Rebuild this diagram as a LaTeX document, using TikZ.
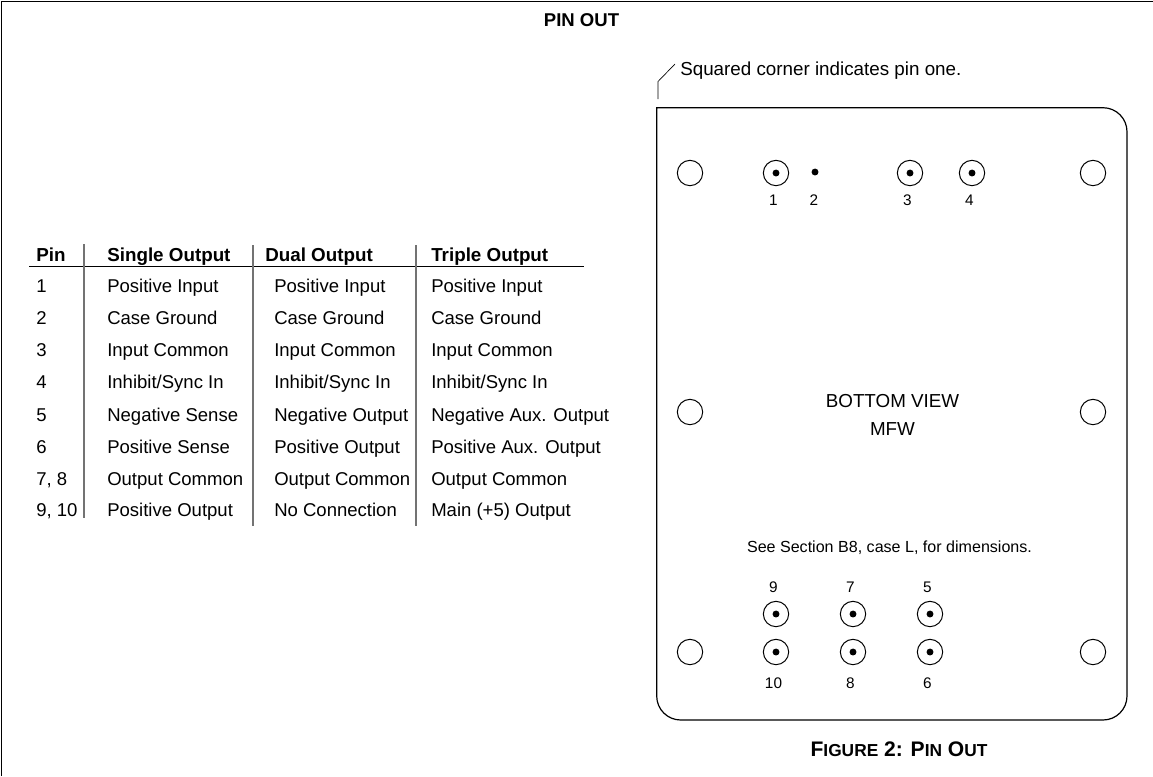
\documentclass[tikz,border=0pt]{standalone}
\usepackage{fontspec}
\setmainfont{Liberation Sans}
\tikzset{
  mounthole/.style={circle,draw,minimum size=19pt,inner sep=0pt,line width=0.75pt},
  pindot/.style={circle,fill,minimum size=5.2pt,inner sep=0pt},
  pinlabel/.style={font=\fontsize{11.5pt}{13pt}\selectfont,inner sep=0pt},
  celltext/.style={font=\fontsize{13.9pt}{16pt}\selectfont,anchor=base west,inner sep=0pt},
  headtext/.style={celltext,font=\fontsize{14.1pt}{16pt}\selectfont\bfseries},
}
\begin{document}
\begin{tikzpicture}[x=0.75pt,y=-0.75pt]
\useasboundingbox (0,0) rectangle (1153,776);
\coordinate (frameA) at (1,776);
\coordinate (frameB) at (1,1);
\coordinate (frameC) at (1153,1);
\draw[line width=0.75pt] (frameA) -- (frameB) -- (frameC);
\node[font=\fontsize{13.9pt}{15pt}\selectfont\bfseries,inner sep=0pt] (title) at (581.5,20) {PIN OUT};
% table
\coordinate (ruleL) at (29,266);
\coordinate (ruleR) at (584,266);
\draw[line width=0.6pt] (ruleL) -- (ruleR);
\foreach \name/\x/\ya/\yb in {sepA/84/244/518,sepB/253/245/526,sepC/416/245/526}{
  \coordinate (\name top) at (\x,\ya);
  \coordinate (\name bot) at (\x,\yb);
  \draw[black!55,line width=0.9pt] (\name top) -- (\name bot);
}
\node[headtext] (headPin) at (36,261) {Pin};
\node[headtext] (headSingle) at (107,261) {Single Output};
\node[headtext] (headDual) at (265,261) {Dual Output};
\node[headtext] (headTriple) at (431,261) {Triple Output};
\foreach \i/\y/\p/\s/\d/\t in {
  1/292/1/Positive Input/Positive Input/Positive Input,
  2/324/2/Case Ground/Case Ground/Case Ground,
  3/356/3/Input Common/Input Common/Input Common,
  4/388/4/Inhibit\slash Sync In/Inhibit\slash Sync In/Inhibit\slash Sync In,
  5/421/5/Negative Sense/Negative Output/Negative Aux. Output,
  6/453/6/Positive Sense/Positive Output/Positive Aux. Output,
  7/485/{7, 8}/Output Common/Output Common/Output Common,
  8/516/{9, 10}/Positive Output/No Connection/Main (+5) Output}{
  \node[celltext] (pin\i) at (36,\y) {\p};
  \node[celltext] (single\i) at (107,\y) {\s};
  \node[celltext] (dual\i) at (274,\y) {\d};
  \node[celltext] (triple\i) at (431,\y) {\t};
}
% case outline
\draw[line width=0.9pt] (656.7,400) -- (656.7,107.7) -- (900,107.7) [rounded corners=18pt] -- (1127,107.7) -- (1127,720) -- (656.7,720) -- cycle;
\coordinate (leaderA) at (658,99);
\coordinate (leaderB) at (658,81.5);
\coordinate (leaderC) at (675,64);
\draw[line width=0.5pt] (leaderA) -- (leaderB) -- (leaderC);
\node[celltext,font=\fontsize{14.1pt}{16pt}\selectfont] (note) at (680,75) {Squared corner indicates pin one.};
% mounting holes
\foreach \name/\x/\y in {holeA/690/173,holeB/1093/173,holeC/690/412,holeD/1093/412,holeE/690/652,holeF/1093/652}{
  \node[mounthole] (\name) at (\x,\y) {};
}
% pins
\foreach \n/\x/\y/\ly in {1/776/173/200,3/910/173/200,4/972/173/200,9/776/614/587,7/853/614/587,5/930/614/587,10/776/652/683,8/853/652/683,6/930/652/683}{
  \node[mounthole] (pinring\n) at (\x,\y) {};
  \node[pindot] (pindot\n) at (\x,\y) {};
  \node[pinlabel] (pinno\n) at (\x-2.5,\ly) {\n};
}
\node[pindot] (pindot2) at (815,172) {};
\node[pinlabel] (pinno2) at (814,200) {2};
\node[font=\fontsize{14.1pt}{16pt}\selectfont,align=center,inner sep=0pt] (view) at (892.5,414.5) {BOTTOM VIEW\\[5pt]MFW};
\node[font=\fontsize{12.05pt}{14pt}\selectfont,inner sep=0pt] (see) at (889.5,547.5) {See Section B8, case L, for dimensions.};
\node[font=\fontsize{15.8pt}{18pt}\selectfont\bfseries,inner sep=0pt] (caption) at (899,749) {F{\fontsize{13pt}{15pt}\selectfont IGURE} 2: P{\fontsize{13pt}{15pt}\selectfont IN} O{\fontsize{13pt}{15pt}\selectfont UT}};
\end{tikzpicture}
\end{document}
